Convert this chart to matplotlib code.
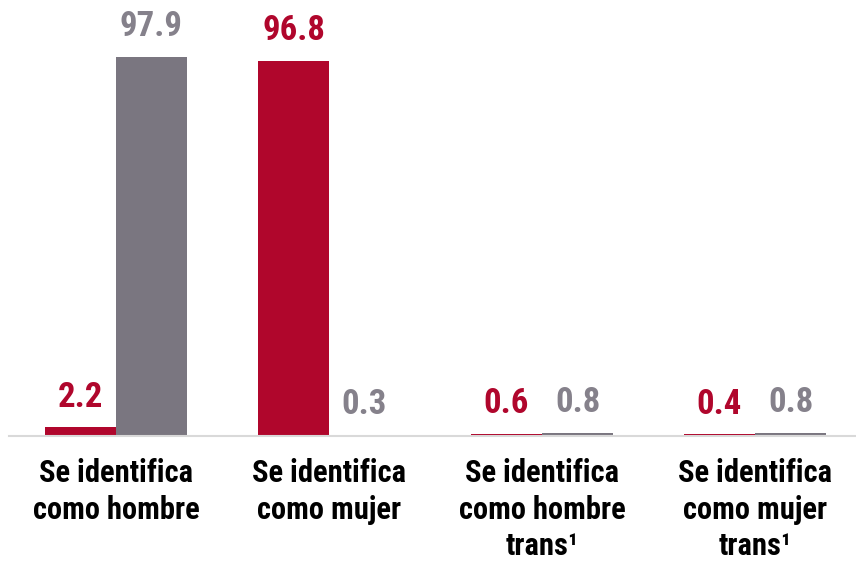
import numpy as np
import matplotlib.pyplot as plt

categories = ['Se identifica\ncomo hombre', 'Se identifica\ncomo mujer',
              'Se identifica\ncomo hombre\ntrans\u00b9', 'Se identifica\ncomo mujer\ntrans\u00b9']
mujeres = [2.2, 96.8, 0.6, 0.4]
hombres = [97.9, 0.3, 0.8, 0.8]

red = '#B0062C'
gray = '#7A7680'
gray_txt = '#85818b'

plt.rcParams['font.family'] = ['Roboto Condensed', 'DejaVu Sans']

fig = plt.figure(figsize=(8.56, 5.64), dpi=100)
ax = fig.add_axes([9/856, 128/564, 847/856, 436/564])

x = np.arange(len(categories))
w = 71/213
ax.bar(x - w/2, mujeres, w, color=red)
ax.bar(x + w/2, hombres, w, color=gray)

for xi, v in zip(x, mujeres):
    ax.annotate(f'{v:.1f}', (xi - w/2, v), xytext=(0, 10), textcoords='offset points',
                ha='center', va='bottom', fontsize=25, fontweight='bold', color=red)
for xi, v in zip(x, hombres):
    ax.annotate(f'{v:.1f}', (xi + w/2, v), xytext=(0, 10), textcoords='offset points',
                ha='center', va='bottom', fontsize=25, fontweight='bold', color=gray_txt)

ax.set_xlim(-0.502, 3.474)
ax.set_ylim(0, 112.6)
ax.set_xticks(x)
ax.set_xticklabels(categories, fontsize=22, fontweight='bold', linespacing=1.27)
ax.tick_params(axis='x', length=0, pad=16)
ax.set_yticks([])
for s in ['top', 'right', 'left']:
    ax.spines[s].set_visible(False)
ax.spines['bottom'].set_color('#d9d9d9')
ax.spines['bottom'].set_linewidth(1.5)

fig.savefig('out.png', dpi=100)
